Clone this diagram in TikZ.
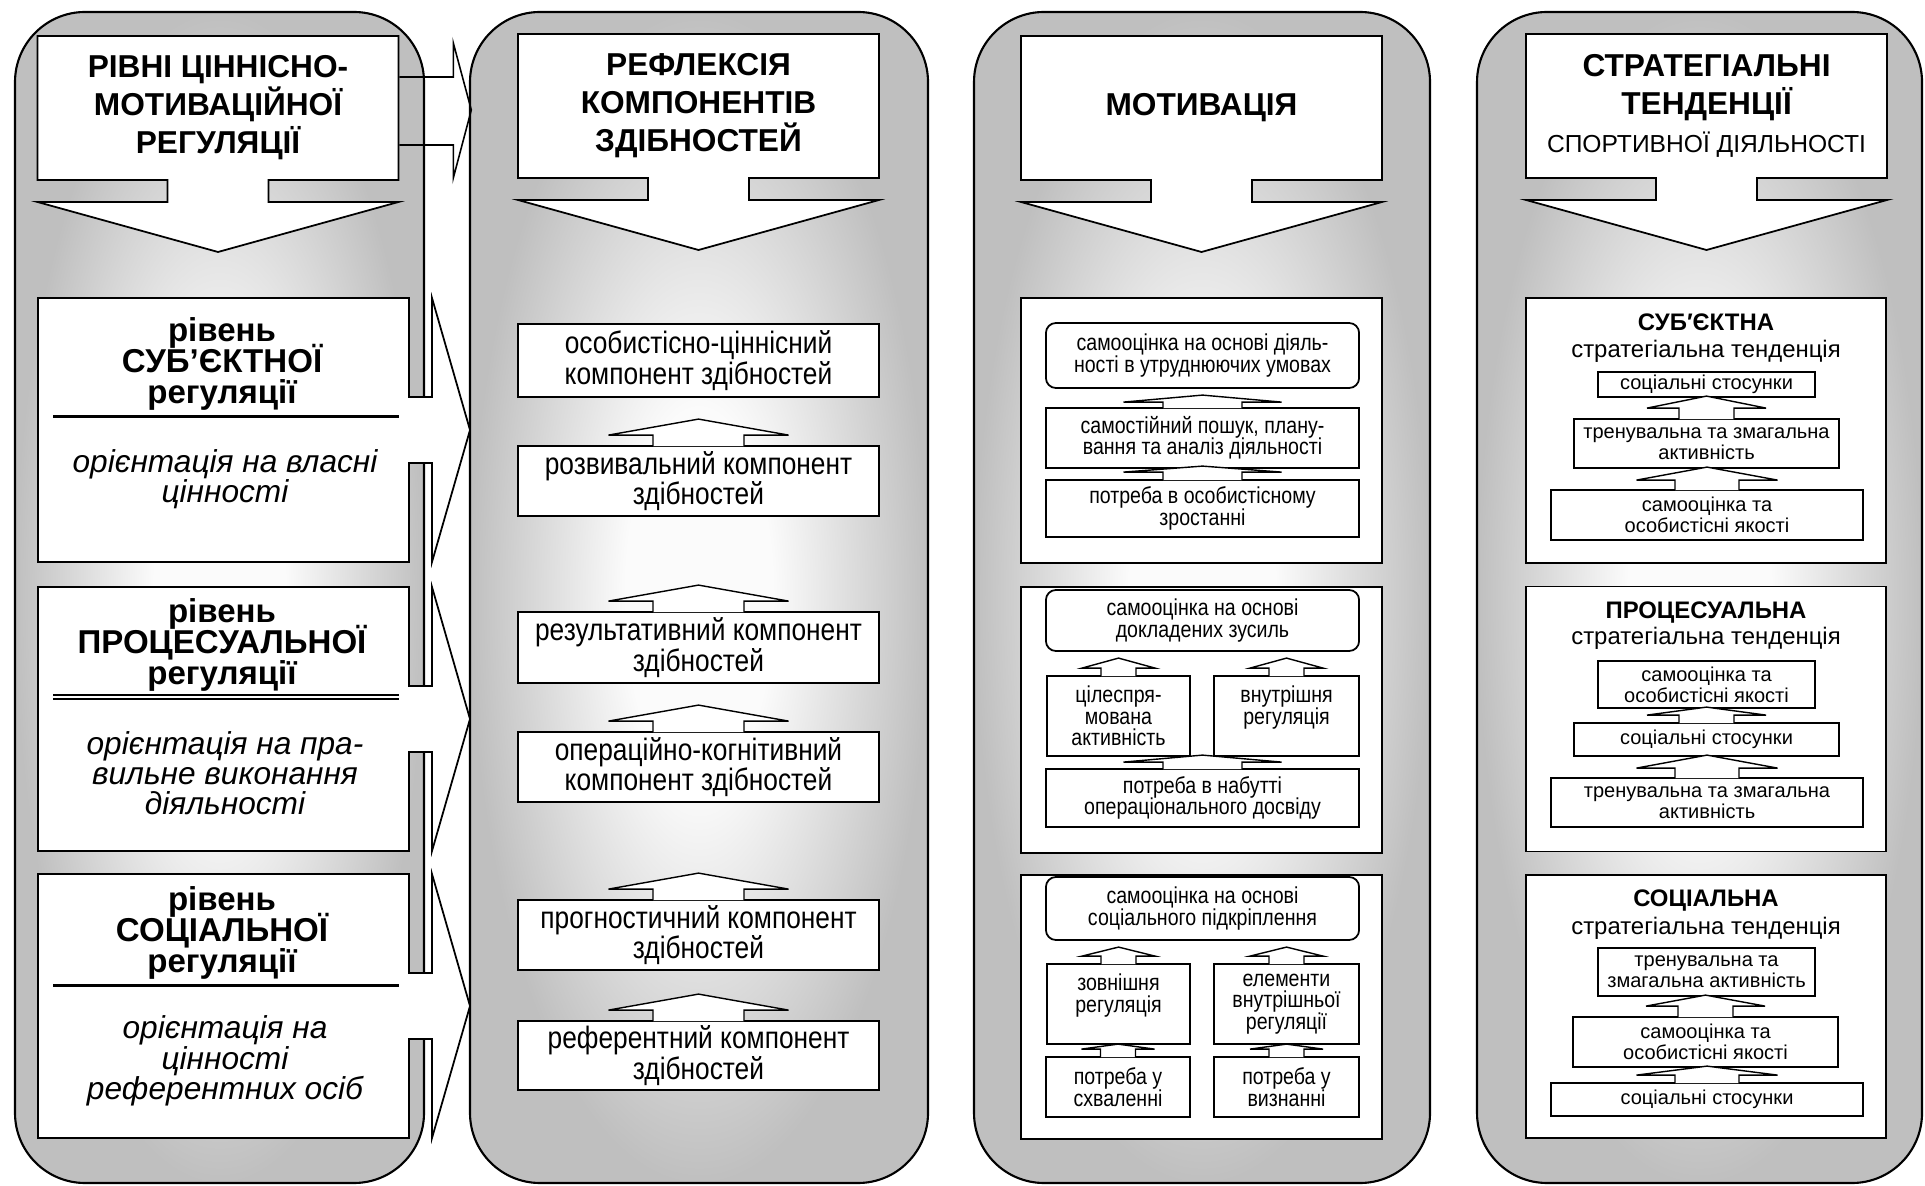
\documentclass[tikz,border=0pt]{standalone}
\usepackage{fontspec}
\setmainfont{Liberation Sans}
\newfontfamily\narrowfont[FakeStretch=0.85]{Liberation Sans}
\usetikzlibrary{calc}

\definecolor{pnlhi}{gray}{0.985}
\definecolor{pnllo}{gray}{0.75}
\pgfdeclareradialshading{panelshade}{\pgfpoint{0bp}{0bp}}{color(0bp)=(pnlhi); color(8bp)=(pnlhi); color(25bp)=(pnllo); color(50bp)=(pnllo)}
\pgfdeclarelayer{bg}
\pgfdeclarelayer{mid}
\pgfsetlayers{bg,mid,main}
\newcommand{\tightls}{\lineskiplimit-20pt\relax}

\tikzset{
  panel/.style={draw, line width=0.6pt, rounded corners=7mm, shade, shading=panelshade},
  blockarr/.style={draw, fill=white, line width=0.5pt},
  uparrow/.style={draw, fill=white, line width=0.4pt},
  thinline/.style={line width=0.45pt},
  hdbox/.style={inner sep=0pt, minimum width=3.61cm, minimum height=1.44cm, align=center,
    font=\bfseries\fontsize{9}{10.8}\selectfont\tightls},
  lvbox/.style={inner sep=0pt, minimum width=3.71cm, minimum height=2.64cm},
  lvtitle/.style={align=center, inner sep=0pt, font=\bfseries\fontsize{9.4}{8.9}\selectfont\tightls},
  lvnote/.style={align=center, inner sep=0pt, font=\itshape\fontsize{9}{8.6}\selectfont\tightls},
  rfbox/.style={draw, fill=white, line width=0.5pt, inner sep=0pt, minimum width=3.61cm, align=center,
    font=\narrowfont\fontsize{8.8}{8.7}\selectfont\tightls},
  mframe/.style={draw, fill=white, line width=0.5pt, inner sep=0pt, minimum width=3.61cm},
  mbox/.style={draw, fill=white, line width=0.5pt, inner sep=0pt, align=center,
    font=\narrowfont\fontsize{6.55}{6.1}\selectfont\tightls},
  mround/.style={mbox, rounded corners=1mm},
  sframe/.style={mframe, minimum width=3.6cm},
  sbox/.style={draw, fill=white, line width=0.5pt, inner sep=0pt, align=center,
    font=\fontsize{5.7}{5.9}\selectfont\tightls},
  stitle/.style={inner sep=0pt, anchor=base, font=\bfseries\fontsize{6.8}{8}\selectfont},
  ssub/.style={inner sep=0pt, anchor=base, font=\fontsize{6.8}{8}\selectfont},
}

% block arrow below a header box
\newcommand{\hdarrow}[1]{%
  \draw[blockarr, shift={(#1.center)}] (-180.5,-72) -- (180.5,-72) -- (180.5,72) -- (50.5,72) -- (50.5,94)
    -- (180.5,94) -- (0,144) -- (-180.5,94) -- (-50.5,94) -- (-50.5,72) -- (-180.5,72) -- cycle;}
% block arrow from a level box to the next column
\newcommand{\lvarrow}[1]{%
  \draw[blockarr, shift={(#1.center)}] (-185.5,-132) -- (185.5,-132) -- (185.5,-33) -- (208.5,-33) -- (208.5,-132)
    -- (246.5,0) -- (208.5,132) -- (208.5,33) -- (185.5,33) -- (185.5,132) -- (-185.5,132) -- cycle;}
% up arrow on a box: node, head half width, stem half width, head height, stem height
\newcommand{\uparr}[5]{%
  \draw[uparrow, shift={(#1.north)}] (-#3,1) -- (-#3,-#5) -- (-#2,-#5) -- (0,-#5-#4) -- (#2,-#5) -- (#3,-#5) -- (#3,1);}

\begin{document}
\begin{tikzpicture}[x=0.01cm, y=-0.01cm]
\useasboundingbox (0,0) rectangle (1925,1186);

\begin{pgfonlayer}{bg}
\draw[panel] (15,12) rectangle (424,1183);
\draw[panel] (470,12) rectangle (928,1183);
\draw[panel] (974,12) rectangle (1430,1183);
\draw[panel] (1477,12) rectangle (1922,1183);
\end{pgfonlayer}

% levels of regulation
\node[hdbox] (h1) at (218,108) {РІВНІ ЦІННІСНО-\\МОТИВАЦІЙНОЇ\\РЕГУЛЯЦІЇ};
\node[lvbox] (lv1) at (223.5,430) {};
\node[lvbox] (lv2) at (223.5,719) {};
\node[lvbox] (lv3) at (223.5,1006) {};
\begin{pgfonlayer}{mid}
\hdarrow{h1}
\lvarrow{lv1}
\lvarrow{lv2}
\lvarrow{lv3}
\draw[thinline, shift={(h1.east)}] (0,-31) -- (54,-31) -- (54,-65) -- (72,2) -- (54,70) -- (54,37) -- (0,37);
\end{pgfonlayer}
\node[lvtitle] (lv1t) at (222,364) {рівень\\СУБ’ЄКТНОЇ\\регуляції};
\node[lvnote] (lv1n) at (225,479) {орієнтація на власні\\цінності};
\node[lvtitle] (lv2t) at (222,645) {рівень\\ПРОЦЕСУАЛЬНОЇ\\регуляції};
\node[lvnote] (lv2n) at (225,773) {орієнтація на пра-\\вильне виконання\\діяльності};
\node[lvtitle] (lv3t) at (222,933) {рівень\\СОЦІАЛЬНОЇ\\регуляції};
\node[lvnote] (lv3n) at (225,1061) {орієнтація на\\цінності\\референтних осіб};
\draw[line width=0.9pt] ($(lv1.north west)+(16,119)$) -- ($(lv1.north east)+(-11,119)$);
\draw[thinline] ($(lv2.north west)+(16,109)$) -- ($(lv2.north east)+(-11,109)$);
\draw[thinline] ($(lv2.north west)+(16,113)$) -- ($(lv2.north east)+(-11,113)$);
\draw[line width=0.9pt] ($(lv3.north west)+(16,112)$) -- ($(lv3.north east)+(-11,112)$);

% reflexion of components
\node[hdbox] (h2) at (698.5,106) {РЕФЛЕКСІЯ\\КОМПОНЕНТІВ\\ЗДІБНОСТЕЙ};
\begin{pgfonlayer}{mid}\hdarrow{h2}\end{pgfonlayer}
\node[rfbox, minimum height=0.73cm] (rf1) at (698.5,360.5) {особистісно-ціннісний\\компонент здібностей};
\node[rfbox, minimum height=0.70cm] (rf2) at (698.5,481) {розвивальний компонент\\здібностей};
\node[rfbox, minimum height=0.71cm] (rf3) at (698.5,647.5) {результативний компонент\\здібностей};
\node[rfbox, minimum height=0.70cm] (rf4) at (698.5,767) {операційно-когнітивний\\компонент здібностей};
\node[rfbox, minimum height=0.70cm] (rf5) at (698.5,935) {прогностичний компонент\\здібностей};
\node[rfbox, minimum height=0.69cm] (rf6) at (698.5,1055.5) {референтний компонент\\здібностей};
\foreach \n in {rf2,rf3,rf4,rf5,rf6} {\uparr{\n}{90}{45.5}{16}{10}}

% motivation
\node[hdbox] (h3) at (1201.5,108) {МОТИВАЦІЯ};
\begin{pgfonlayer}{mid}\hdarrow{h3}\end{pgfonlayer}
\node[mframe, minimum height=2.65cm] (m1) at (1201.5,430.5) {};
\node[mframe, minimum height=2.66cm] (m2) at (1201.5,720) {};
\node[mframe, minimum height=2.64cm] (m3) at (1201.5,1007) {};
\node[mround, minimum width=3.13cm, minimum height=0.65cm] (ma1) at (1202.5,355.5) {самооцінка на основі діяль-\\ності в утруднюючих умовах};
\node[mbox, minimum width=3.13cm, minimum height=0.60cm] (ma2) at (1202.5,438) {самостійний пошук, плану-\\вання та аналіз діяльності};
\node[mbox, minimum width=3.13cm, minimum height=0.57cm] (ma3) at (1202.5,508.5) {потреба в особистісному\\зростанні};
\uparr{ma2}{79}{39.5}{7}{5}
\uparr{ma3}{79}{39.5}{6}{7}
\node[mround, minimum width=3.13cm, minimum height=0.61cm] (mb1) at (1202.5,620.5) {самооцінка на основі\\докладених зусиль};
\node[mbox, minimum width=1.43cm, minimum height=0.80cm] (mb2) at (1118.5,716) {цілеспря-\\мована\\активність};
\node[mbox, minimum width=1.45cm, minimum height=0.80cm] (mb3) at (1286.5,716) {внутрішня\\регуляція\\\mbox{}};
\node[mbox, minimum width=3.13cm, minimum height=0.58cm] (mb4) at (1202.5,798) {потреба в набутті\\операціонального досвіду};
\uparr{mb2}{36.5}{17.5}{10}{7}
\uparr{mb3}{36.5}{17.5}{10}{7}
\uparr{mb4}{79}{39.5}{7}{6}
\node[mround, minimum width=3.13cm, minimum height=0.63cm] (mc1) at (1202.5,908.5) {самооцінка на основі\\соціального підкріплення};
\node[mbox, minimum width=1.43cm, minimum height=0.80cm] (mc2) at (1118.5,1004) {зовнішня\\регуляція\\\mbox{}};
\node[mbox, minimum width=1.45cm, minimum height=0.80cm] (mc3) at (1286.5,1004) {елементи\\внутрішньої\\регуляції};
\node[mbox, minimum width=1.44cm, minimum height=0.60cm] (mc4) at (1118,1087) {потреба у\\схваленні};
\node[mbox, minimum width=1.45cm, minimum height=0.60cm] (mc5) at (1286.5,1087) {потреба у\\визнанні};
\uparr{mc2}{36.5}{17.5}{9}{7}
\uparr{mc3}{36.5}{17.5}{9}{7}
\uparr{mc4}{36.5}{17.5}{5}{7}
\uparr{mc5}{36.5}{17.5}{5}{7}

% strategic tendencies
\node[hdbox] (h4) at (1706.5,106) {СТРАТЕГІАЛЬНІ\\ТЕНДЕНЦІЇ\\{\mdseries\fontsize{7}{8}\selectfont СПОРТИВНОЇ ДІЯЛЬНОСТІ}};
\begin{pgfonlayer}{mid}\hdarrow{h4}\end{pgfonlayer}
\node[sframe, minimum height=2.65cm] (st1) at (1706,430.5) {};
\node[sframe, minimum height=2.65cm] (st2) at (1706,719) {};
\node[sframe, minimum height=2.63cm] (st3) at (1706,1006.5) {};
\node[stitle] (sbjt) at (1706,331) {СУБ′ЄКТНА};
\node[ssub] (sbjs) at (1706,358) {стратегіальна тенденція};
\node[sbox, minimum width=2.17cm, minimum height=0.25cm] (sbj1) at (1706.5,384.5) {соціальні стосунки};
\node[sbox, minimum width=2.65cm, minimum height=0.49cm] (sbj2) at (1706.5,443.5) {тренувальна та змагальна\\активність};
\node[sbox, minimum width=3.12cm, minimum height=0.50cm] (sbj3) at (1707,515) {самооцінка та\\особистісні якості};
\uparr{sbj2}{59.5}{27.5}{12}{10}
\uparr{sbj3}{70.5}{32}{13}{9}
\node[stitle] (prct) at (1706,619) {ПРОЦЕСУАЛЬНА};
\node[ssub] (prcs) at (1706,645) {стратегіальна тенденція};
\node[sbox, minimum width=2.17cm, minimum height=0.47cm] (prc1) at (1706.5,684.5) {самооцінка та\\особистісні якості};
\node[sbox, minimum width=2.65cm, minimum height=0.33cm] (prc2) at (1706.5,739.5) {соціальні стосунки};
\node[sbox, minimum width=3.12cm, minimum height=0.49cm] (prc3) at (1707,802.5) {тренувальна та змагальна\\активність};
\uparr{prc2}{59.5}{27.5}{8}{7}
\uparr{prc3}{70.5}{32}{13}{9}
\node[stitle] (soct) at (1706,906) {СОЦІАЛЬНА};
\node[ssub] (socs) at (1706,934) {стратегіальна тенденція};
\node[sbox, minimum width=2.17cm, minimum height=0.48cm] (soc1) at (1706.5,972) {тренувальна та\\змагальна активність};
\node[sbox, minimum width=2.65cm, minimum height=0.50cm] (soc2) at (1705.5,1042) {самооцінка та\\особистісні якості};
\node[sbox, minimum width=3.12cm, minimum height=0.33cm] (soc3) at (1707,1099.5) {соціальні стосунки};
\uparr{soc2}{59.5}{27.5}{11}{10}
\uparr{soc3}{70.5}{32}{9}{7}
\end{tikzpicture}
\end{document}
